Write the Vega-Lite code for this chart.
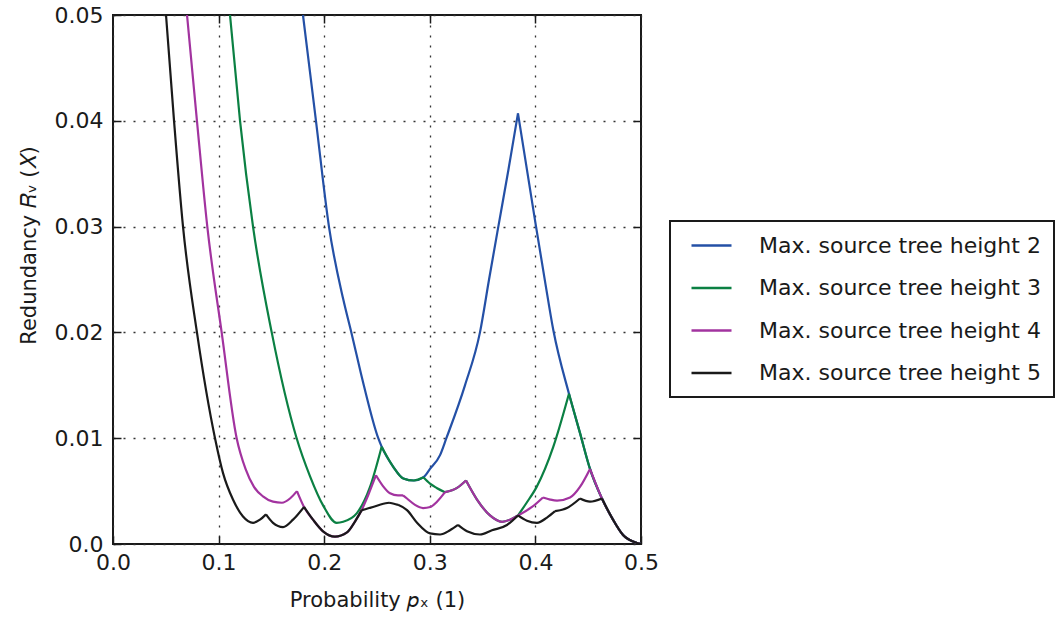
{
  "$schema": "https://vega.github.io/schema/vega-lite/v6.json",
  "width": 528,
  "height": 529,
  "autosize": {"type": "none"},
  "padding": {"left": 113, "top": 15, "right": 423, "bottom": 82},
  "background": "white",
  "config": {
    "view": {"stroke": "#1a1a1a", "strokeWidth": 2},
    "font": "DejaVu Sans",
    "axis": {
      "labelFont": "DejaVu Sans", "titleFont": "DejaVu Sans",
      "labelColor": "#1a1a1a", "titleColor": "#1a1a1a", "titleFontWeight": "normal",
      "labelFontSize": 22, "titleFontSize": 21, "labelFlush": false,
      "domain": false, "tickColor": "#1a1a1a", "tickWidth": 1.5, "tickSize": -8,
      "labelPadding": 16,
      "gridColor": "#333333", "gridDash": [2, 8], "gridWidth": 1.3, "gridOpacity": 1
    },
    "legend": {"strokeWidth": 2}
  },
  "data": {"values": [
    {"h":"2","g":"b1","x":0.1799,"y":0.05},{"h":"2","g":"b1","x":0.1922,"y":0.04},{"h":"2","g":"b1","x":0.2045,"y":0.03},{"h":"2","g":"b1","x":0.2181,"y":0.0231},{"h":"2","g":"b1","x":0.2257,"y":0.02},{"h":"2","g":"b1","x":0.2375,"y":0.015},{"h":"2","g":"b1","x":0.2512,"y":0.01},{"h":"2","g":"b1","x":0.2544,"y":0.0092},{"h":"2","g":"b1","x":0.2654,"y":0.0073},{"h":"2","g":"b1","x":0.2749,"y":0.0062},{"h":"2","g":"b1","x":0.285,"y":0.006},{"h":"2","g":"b1","x":0.2939,"y":0.0063},{"h":"2","g":"b1","x":0.3002,"y":0.0071},{"h":"2","g":"b1","x":0.3097,"y":0.0084},{"h":"2","g":"b1","x":0.3157,"y":0.01},{"h":"2","g":"b1","x":0.3333,"y":0.015},{"h":"2","g":"b1","x":0.3475,"y":0.02},{"h":"2","g":"b1","x":0.3561,"y":0.025},{"h":"2","g":"b1","x":0.3649,"y":0.03},{"h":"2","g":"b1","x":0.3745,"y":0.0354},{"h":"2","g":"b1","x":0.3835,"y":0.0407},
    {"h":"2","g":"b2","x":0.3835,"y":0.0407},{"h":"2","g":"b2","x":0.4006,"y":0.03},{"h":"2","g":"b2","x":0.409,"y":0.0249},{"h":"2","g":"b2","x":0.417,"y":0.0202},{"h":"2","g":"b2","x":0.4318,"y":0.0142},{"h":"2","g":"b2","x":0.4422,"y":0.0105},{"h":"2","g":"b2","x":0.4517,"y":0.0071},{"h":"2","g":"b2","x":0.463,"y":0.0043},{"h":"2","g":"b2","x":0.4735,"y":0.0023},{"h":"2","g":"b2","x":0.483,"y":0.00085},{"h":"2","g":"b2","x":0.4962,"y":0.0001},{"h":"2","g":"b2","x":0.5,"y":0},

    {"h":"3","g":"g1","x":0.1108,"y":0.05},{"h":"3","g":"g1","x":0.1203,"y":0.04},{"h":"3","g":"g1","x":0.1326,"y":0.03},{"h":"3","g":"g1","x":0.1503,"y":0.02},{"h":"3","g":"g1","x":0.1739,"y":0.01},{"h":"3","g":"g1","x":0.1866,"y":0.0064},{"h":"3","g":"g1","x":0.1992,"y":0.0036},{"h":"3","g":"g1","x":0.2118,"y":0.002},{"h":"3","g":"g1","x":0.218,"y":0.0021},{"h":"3","g":"g1","x":0.2308,"y":0.0029},{"h":"3","g":"g1","x":0.2434,"y":0.0054},{"h":"3","g":"g1","x":0.2544,"y":0.0092},
    {"h":"3","g":"g2","x":0.2544,"y":0.0092},{"h":"3","g":"g2","x":0.2654,"y":0.0073},{"h":"3","g":"g2","x":0.2749,"y":0.0062},{"h":"3","g":"g2","x":0.285,"y":0.006},{"h":"3","g":"g2","x":0.2939,"y":0.0063},
    {"h":"3","g":"g3","x":0.2939,"y":0.0063},{"h":"3","g":"g3","x":0.3002,"y":0.0057},{"h":"3","g":"g3","x":0.3065,"y":0.0053},{"h":"3","g":"g3","x":0.3144,"y":0.0049},
    {"h":"3","g":"g4","x":0.3144,"y":0.0049},{"h":"3","g":"g4","x":0.3258,"y":0.0053},{"h":"3","g":"g4","x":0.3343,"y":0.006},
    {"h":"3","g":"g5","x":0.3343,"y":0.006},{"h":"3","g":"g5","x":0.3447,"y":0.0042},{"h":"3","g":"g5","x":0.357,"y":0.0027},{"h":"3","g":"g5","x":0.3684,"y":0.0021},{"h":"3","g":"g5","x":0.376,"y":0.0023},{"h":"3","g":"g5","x":0.3835,"y":0.0027},
    {"h":"3","g":"g6","x":0.3835,"y":0.0027},{"h":"3","g":"g6","x":0.3917,"y":0.0039},{"h":"3","g":"g6","x":0.4012,"y":0.0054},{"h":"3","g":"g6","x":0.417,"y":0.0092},{"h":"3","g":"g6","x":0.4318,"y":0.0142},
    {"h":"3","g":"g7","x":0.4318,"y":0.0142},{"h":"3","g":"g7","x":0.4422,"y":0.0105},{"h":"3","g":"g7","x":0.4517,"y":0.0071},{"h":"3","g":"g7","x":0.463,"y":0.0043},{"h":"3","g":"g7","x":0.4735,"y":0.0023},{"h":"3","g":"g7","x":0.483,"y":0.00085},{"h":"3","g":"g7","x":0.4962,"y":0.0001},{"h":"3","g":"g7","x":0.5,"y":0},

    {"h":"4","g":"m1","x":0.0701,"y":0.05},{"h":"4","g":"m1","x":0.0795,"y":0.04},{"h":"4","g":"m1","x":0.0893,"y":0.03},{"h":"4","g":"m1","x":0.1029,"y":0.02},{"h":"4","g":"m1","x":0.1171,"y":0.01},{"h":"4","g":"m1","x":0.1255,"y":0.0071},{"h":"4","g":"m1","x":0.1335,"y":0.0054},{"h":"4","g":"m1","x":0.142,"y":0.0045},{"h":"4","g":"m1","x":0.1515,"y":0.004},{"h":"4","g":"m1","x":0.16,"y":0.0039},{"h":"4","g":"m1","x":0.1676,"y":0.0043},{"h":"4","g":"m1","x":0.1742,"y":0.005},
    {"h":"4","g":"m2","x":0.1742,"y":0.005},{"h":"4","g":"m2","x":0.1809,"y":0.0035},{"h":"4","g":"m2","x":0.1894,"y":0.0023},{"h":"4","g":"m2","x":0.1989,"y":0.0012},{"h":"4","g":"m2","x":0.2102,"y":0.0007},{"h":"4","g":"m2","x":0.2216,"y":0.0011},{"h":"4","g":"m2","x":0.229,"y":0.0021},{"h":"4","g":"m2","x":0.2355,"y":0.0032},
    {"h":"4","g":"m3","x":0.2355,"y":0.0032},{"h":"4","g":"m3","x":0.242,"y":0.0047},{"h":"4","g":"m3","x":0.249,"y":0.0065},
    {"h":"4","g":"m4","x":0.249,"y":0.0065},{"h":"4","g":"m4","x":0.2555,"y":0.0055},{"h":"4","g":"m4","x":0.2623,"y":0.0048},{"h":"4","g":"m4","x":0.2699,"y":0.0046},{"h":"4","g":"m4","x":0.2746,"y":0.0046},
    {"h":"4","g":"m5","x":0.2746,"y":0.0046},{"h":"4","g":"m5","x":0.2784,"y":0.0043},{"h":"4","g":"m5","x":0.286,"y":0.0037},{"h":"4","g":"m5","x":0.2936,"y":0.0034},{"h":"4","g":"m5","x":0.3005,"y":0.0035},{"h":"4","g":"m5","x":0.3068,"y":0.004},{"h":"4","g":"m5","x":0.3144,"y":0.0049},
    {"h":"4","g":"m6","x":0.3144,"y":0.0049},{"h":"4","g":"m6","x":0.3258,"y":0.0053},{"h":"4","g":"m6","x":0.3343,"y":0.006},
    {"h":"4","g":"m7","x":0.3343,"y":0.006},{"h":"4","g":"m7","x":0.3447,"y":0.0042},{"h":"4","g":"m7","x":0.357,"y":0.0027},{"h":"4","g":"m7","x":0.3684,"y":0.0021},{"h":"4","g":"m7","x":0.376,"y":0.0023},{"h":"4","g":"m7","x":0.3835,"y":0.0027},
    {"h":"4","g":"m8","x":0.3835,"y":0.0027},{"h":"4","g":"m8","x":0.3968,"y":0.0035},{"h":"4","g":"m8","x":0.4072,"y":0.0044},
    {"h":"4","g":"m9","x":0.4072,"y":0.0044},{"h":"4","g":"m9","x":0.414,"y":0.0042},{"h":"4","g":"m9","x":0.4205,"y":0.0041},{"h":"4","g":"m9","x":0.4328,"y":0.0044},{"h":"4","g":"m9","x":0.4422,"y":0.0054},{"h":"4","g":"m9","x":0.4517,"y":0.0071},
    {"h":"4","g":"m10","x":0.4517,"y":0.0071},{"h":"4","g":"m10","x":0.463,"y":0.0043},{"h":"4","g":"m10","x":0.4735,"y":0.0023},{"h":"4","g":"m10","x":0.483,"y":0.00085},{"h":"4","g":"m10","x":0.4962,"y":0.0001},{"h":"4","g":"m10","x":0.5,"y":0},

    {"h":"5","g":"k1","x":0.0502,"y":0.05},{"h":"5","g":"k1","x":0.0578,"y":0.04},{"h":"5","g":"k1","x":0.0663,"y":0.03},{"h":"5","g":"k1","x":0.0795,"y":0.02},{"h":"5","g":"k1","x":0.0966,"y":0.01},{"h":"5","g":"k1","x":0.1042,"y":0.0067},{"h":"5","g":"k1","x":0.1136,"y":0.0042},{"h":"5","g":"k1","x":0.1231,"y":0.0026},{"h":"5","g":"k1","x":0.1326,"y":0.002},{"h":"5","g":"k1","x":0.1392,"y":0.0023},{"h":"5","g":"k1","x":0.1449,"y":0.0028},
    {"h":"5","g":"k2","x":0.1449,"y":0.0028},{"h":"5","g":"k2","x":0.1515,"y":0.002},{"h":"5","g":"k2","x":0.161,"y":0.0016},{"h":"5","g":"k2","x":0.1705,"y":0.0023},{"h":"5","g":"k2","x":0.1809,"y":0.0035},
    {"h":"5","g":"k3","x":0.1809,"y":0.0035},{"h":"5","g":"k3","x":0.1894,"y":0.0023},{"h":"5","g":"k3","x":0.1989,"y":0.0012},{"h":"5","g":"k3","x":0.2102,"y":0.0007},{"h":"5","g":"k3","x":0.2216,"y":0.0011},{"h":"5","g":"k3","x":0.229,"y":0.0021},{"h":"5","g":"k3","x":0.2355,"y":0.0032},
    {"h":"5","g":"k4","x":0.2355,"y":0.0032},{"h":"5","g":"k4","x":0.2462,"y":0.0035},{"h":"5","g":"k4","x":0.256,"y":0.0038},{"h":"5","g":"k4","x":0.2614,"y":0.0039},
    {"h":"5","g":"k5","x":0.2614,"y":0.0039},{"h":"5","g":"k5","x":0.266,"y":0.0038},{"h":"5","g":"k5","x":0.2699,"y":0.0037},
    {"h":"5","g":"k6","x":0.2699,"y":0.0037},{"h":"5","g":"k6","x":0.2784,"y":0.0032},{"h":"5","g":"k6","x":0.2879,"y":0.002},{"h":"5","g":"k6","x":0.3002,"y":0.001},{"h":"5","g":"k6","x":0.3097,"y":0.0009},{"h":"5","g":"k6","x":0.3191,"y":0.0013},{"h":"5","g":"k6","x":0.3267,"y":0.0018},
    {"h":"5","g":"k7","x":0.3267,"y":0.0018},{"h":"5","g":"k7","x":0.3352,"y":0.0012},{"h":"5","g":"k7","x":0.3475,"y":0.0009},{"h":"5","g":"k7","x":0.3589,"y":0.0013},{"h":"5","g":"k7","x":0.3731,"y":0.0018},{"h":"5","g":"k7","x":0.3835,"y":0.0027},
    {"h":"5","g":"k8","x":0.3835,"y":0.0027},{"h":"5","g":"k8","x":0.392,"y":0.0022},{"h":"5","g":"k8","x":0.4015,"y":0.002},{"h":"5","g":"k8","x":0.411,"y":0.0025},{"h":"5","g":"k8","x":0.4186,"y":0.0031},
    {"h":"5","g":"k9","x":0.4186,"y":0.0031},{"h":"5","g":"k9","x":0.4299,"y":0.0034},{"h":"5","g":"k9","x":0.4422,"y":0.0043},
    {"h":"5","g":"k10","x":0.4422,"y":0.0043},{"h":"5","g":"k10","x":0.4517,"y":0.004},{"h":"5","g":"k10","x":0.463,"y":0.0043},
    {"h":"5","g":"k11","x":0.463,"y":0.0043},{"h":"5","g":"k11","x":0.4735,"y":0.0023},{"h":"5","g":"k11","x":0.483,"y":0.00085},{"h":"5","g":"k11","x":0.4962,"y":0.0001},{"h":"5","g":"k11","x":0.5,"y":0}
  ]},
  "layer": [
    {
      "mark": {"type": "line", "strokeWidth": 2.2, "clip": true, "interpolate": "monotone"},
      "encoding": {
        "x": {"field": "x", "type": "quantitative",
          "scale": {"domain": [0, 0.5], "nice": false, "zero": false},
          "axis": {"orient": "bottom", "values": [0, 0.1, 0.2, 0.3, 0.4, 0.5], "format": ".1f",
            "title": "Probability 𝑝ₓ (1)", "titlePadding": 16}},
        "y": {"field": "y", "type": "quantitative",
          "scale": {"domain": [0, 0.05], "nice": false, "zero": false},
          "axis": {"orient": "left", "values": [0, 0.01, 0.02, 0.03, 0.04, 0.05],
            "labelExpr": "datum.value == 0 ? '0.0' : format(datum.value, '.2f')", "labelPadding": 18,
            "title": "Redundancy 𝑅ᵥ (𝑋)", "titlePadding": 15, "titleY": 230}},
        "detail": {"field": "g", "type": "nominal"},
        "color": {"field": "h", "type": "nominal",
          "scale": {"domain": ["2", "3", "4", "5"], "range": ["#2450a6", "#0b8043", "#a2339f", "#1a1a1a"]},
          "legend": {"orient": "none", "legendX": 557, "legendY": 206, "title": null,
            "labelExpr": "'Max. source tree height ' + datum.label",
            "labelFont": "DejaVu Sans", "labelFontSize": 22, "labelColor": "#1a1a1a", "labelLimit": 0,
            "symbolType": "M-2,0H2", "symbolSize": 400, "symbolStrokeWidth": 2.5, "symbolOffset": 17,
            "labelOffset": 36, "padding": 13, "rowPadding": 19.5,
            "strokeColor": "#1a1a1a", "fillColor": "white"}}
      }
    },
    {
      "mark": {"type": "line", "opacity": 0},
      "encoding": {
        "x": {"field": "x", "type": "quantitative",
          "axis": {"orient": "top", "values": [0.1, 0.2, 0.3, 0.4], "labels": false, "grid": false, "title": null}},
        "y": {"field": "y", "type": "quantitative",
          "axis": {"orient": "right", "values": [0.01, 0.02, 0.03, 0.04], "labels": false, "grid": false, "title": null}}
      }
    }
  ],
  "resolve": {"axis": {"x": "independent", "y": "independent"}}
}
